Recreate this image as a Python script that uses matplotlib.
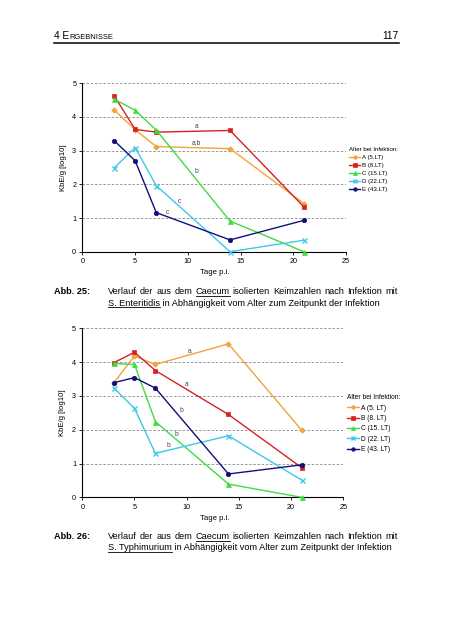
import matplotlib
matplotlib.use("Agg")
import matplotlib.pyplot as plt
from matplotlib.lines import Line2D

plt.rcParams['font.family'] = ['Liberation Sans', 'DejaVu Sans']

W, H = 452, 640

# --- data ---
days = [3, 5, 7, 14, 21]

# Abb. 25: S. Enteritidis
ent_A = [4.21, 3.62, 3.12, 3.06, 1.43]
ent_B = [4.63, 3.63, 3.55, 3.60, 1.33]
ent_C = [4.53, 4.20, 3.61, 0.91, 0.00]
ent_D = [2.49, 3.09, 1.96, 0.00, 0.34]
ent_E = [3.30, 2.70, 1.16, 0.35, 0.93]
ent_labels = ["A (5.LT)", "B (8.LT)", "C (15.LT)", "D (22.LT)", "E (43.LT)"]
ent_note_txt = ["a", "a,b", "b", "c", "c"]
ent_note_x = [10.8, 10.85, 10.85, 9.2, 8.1]
ent_note_y = [3.73, 3.24, 2.38, 1.50, 1.16]

# Abb. 26: S. Typhimurium
typ_A = [3.38, 4.18, 3.93, 4.54, 1.99]
typ_B = [3.98, 4.29, 3.75, 2.45, 0.88]
typ_C = [3.96, 3.93, 2.24, 0.39, 0.00]
typ_D = [3.24, 2.63, 1.30, 1.82, 0.51]
typ_E = [3.39, 3.54, 3.23, 0.69, 0.96]
typ_labels = ["A (5. LT)", "B (8. LT)", "C (15. LT)", "D (22. LT)", "E (43. LT)"]
typ_note_txt = ["a", "a", "b", "b", "b"]
typ_note_x = [10.3, 10.0, 9.45, 9.0, 8.25]
typ_note_y = [4.31, 3.34, 2.56, 1.86, 1.52]

colors = ["#F2A33A", "#D92020", "#3EDC3E", "#3CC8EA", "#10107A"]
markers = ["D", "s", "^", "x", "o"]
msizes = [2.8, 3.4, 3.6, 3.6, 3.2]


def fx(x):
    return x / W


def fy(y):
    return 1 - y / H


fig = plt.figure(figsize=(W / 100, H / 100), dpi=100)
fig.patch.set_facecolor("white")


def panel(rect, series, labels, note_txt, note_x, note_y, xlab_y, leg_pos, leg_fs, leg_sp):
    ax = fig.add_axes(rect)
    for vals, lab, c, m, ms in zip(series, labels, colors, markers, msizes):
        ax.plot(days, vals, color=c, marker=m, markersize=ms, linewidth=1.0,
                markeredgewidth=1.0 if m == "x" else 0.5, label=lab, clip_on=False, zorder=3)
    for t, x, y in zip(note_txt, note_x, note_y):
        ax.text(x, y, t, fontsize=4.8, color="#444444", ha="center", va="center")
    ax.set_xlim(0, 25)
    ax.set_ylim(0, 5)
    ax.set_xticks([0, 5, 10, 15, 20, 25])
    ax.set_yticks([0, 1, 2, 3, 4, 5])
    for yv in [1, 2, 3, 4, 5]:
        ax.axhline(yv, color="#888888", linestyle=(0, (3, 2)), linewidth=0.6, zorder=1)
    for s in ["top", "right"]:
        ax.spines[s].set_visible(False)
    for s in ["left", "bottom"]:
        ax.spines[s].set_linewidth(0.8)
    ax.tick_params(labelsize=5.2, length=2.5, width=0.6, pad=2)
    ax.set_ylabel("KbE/g [log10]", fontsize=5.6, labelpad=4)
    fig.text(fx(215), fy(xlab_y), "Tage p.i.", fontsize=5.6, ha="center", va="center")
    leg = ax.legend(loc="upper left", bbox_to_anchor=leg_pos, bbox_transform=fig.transFigure,
                    frameon=False, fontsize=leg_fs, title="Alter bei Infektion:",
                    title_fontsize=leg_fs, handlelength=1.8, handletextpad=0.3,
                    labelspacing=leg_sp, borderpad=0, markerscale=0.8)
    leg._legend_box.align = "left"
    return ax


panel([fx(82.5), fy(251.7), (346 - 82.5) / W, (251.7 - 83.3) / H],
      [ent_A, ent_B, ent_C, ent_D, ent_E], ent_labels,
      ent_note_txt, ent_note_x, ent_note_y, 273, (fx(346), fy(144)), 4.4, 0.45)

panel([fx(82.3), fy(497.3), (343.3 - 82.3) / W, (497.3 - 328.3) / H],
      [typ_A, typ_B, typ_C, typ_D, typ_E], typ_labels,
      typ_note_txt, typ_note_x, typ_note_y, 519, (fx(344), fy(391)), 4.8, 0.5)

renderer = fig.canvas.get_renderer()

# --- page header ---
HDR_Y = 39
fig.text(fx(54), fy(HDR_Y), "4 E", fontsize=7.2, ha="left", va="baseline")
hdr = fig.text(fx(54), fy(HDR_Y), "4 E", fontsize=7.2, ha="left", va="baseline", alpha=0)
w4 = hdr.get_window_extent(renderer).width
fig.text(fx(54 + w4), fy(HDR_Y), "RGEBNISSE", fontsize=5.4, ha="left", va="baseline")
fig.text(fx(399), fy(HDR_Y), "117", fontsize=7.4, ha="right", va="baseline")
fig.add_artist(Line2D([fx(54), fx(399)], [fy(42.5), fy(42.5)], color="black", linewidth=1.1))

CAP_FS = 6.6


def width_of(s, **kw):
    t = fig.text(0, 0, s, fontsize=CAP_FS, alpha=0, **kw)
    w = t.get_window_extent(renderer).width
    t.remove()
    return w


def underline(x0, x1, y):
    fig.add_artist(Line2D([fx(x0), fx(x1)], [fy(y), fy(y)], color="black", linewidth=0.6))


def caption(num, y, line1, under1, line2_first, line2_rest):
    fig.text(fx(54), fy(y), num, fontsize=CAP_FS, fontweight="bold", ha="left", va="baseline")
    # justified first line
    words = line1.split()
    widths = [width_of(wd) for wd in words]
    gap = (398 - 108 - sum(widths)) / (len(words) - 1)
    x = 108
    for wd, w in zip(words, widths):
        fig.text(fx(x), fy(y), wd, fontsize=CAP_FS, ha="left", va="baseline")
        if wd in under1:
            underline(x, x + w, y + 1.8)
        x += w + gap
    # second line
    y2 = y + 11
    w1 = width_of(line2_first)
    fig.text(fx(108), fy(y2), line2_first, fontsize=CAP_FS, ha="left", va="baseline")
    underline(108, 108 + w1, y2 + 1.8)
    fig.text(fx(108 + w1), fy(y2), " " + line2_rest, fontsize=CAP_FS, ha="left", va="baseline")


caption("Abb. 25:", 294.5,
        "Verlauf der aus dem Caecum isolierten Keimzahlen nach Infektion mit", ["Caecum"],
        "S. Enteritidis", "in Abhängigkeit vom Alter zum Zeitpunkt der Infektion")
caption("Abb. 26:", 539,
        "Verlauf der aus dem Caecum isolierten Keimzahlen nach Infektion mit", ["Caecum"],
        "S. Typhimurium", "in Abhängigkeit vom Alter zum Zeitpunkt der Infektion")

fig.savefig("out.png", dpi=100, facecolor="white")
